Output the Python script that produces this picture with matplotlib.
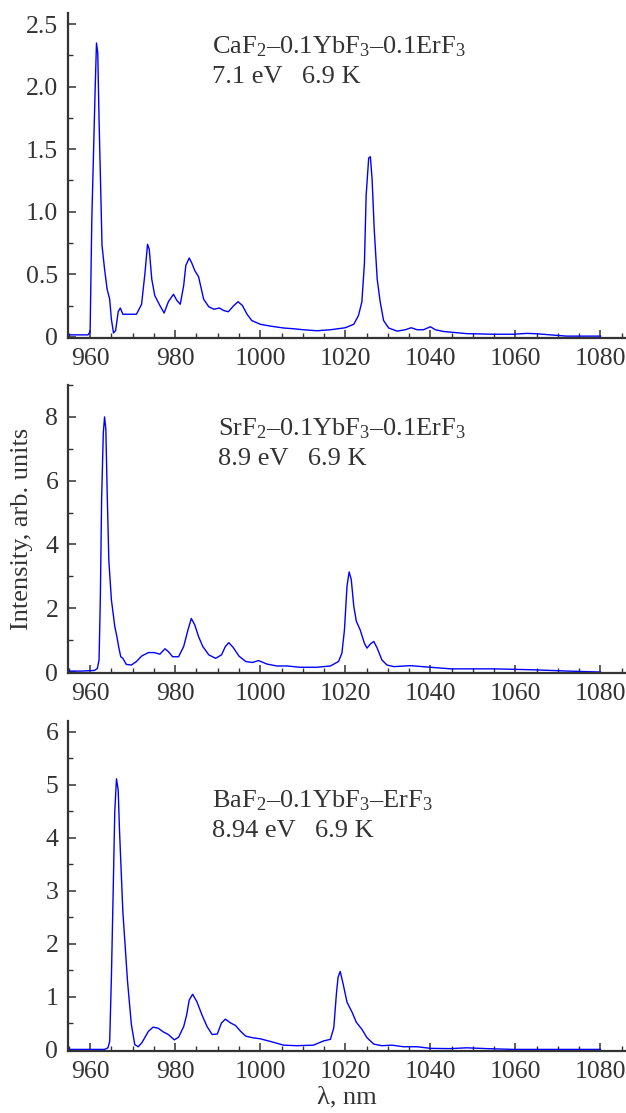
import numpy as np
import matplotlib.pyplot as plt
from matplotlib.ticker import MultipleLocator

plt.rcParams['font.family'] = ['Liberation Serif', 'DejaVu Serif']
plt.rcParams['mathtext.fontset'] = 'custom'
plt.rcParams['mathtext.rm'] = 'Liberation Serif'
plt.rcParams['mathtext.it'] = 'Liberation Serif:italic'

# CaF2-0.1YbF3-0.1ErF3, 7.1 eV, 6.9 K
wl_ca = [955, 959.5, 960, 960.4, 960.8, 961.2, 961.5, 961.8, 962.1, 962.4, 962.8,
         963.4, 964.0, 964.6, 965.0, 965.5, 966.0, 966.6, 967.1, 967.7, 968.9, 970.9,
         972.1, 972.9, 973.5, 973.9, 974.5, 975.2, 976.4, 977.4, 978.4, 979.6, 980.4,
         981.2, 982.0, 982.5, 983.3, 983.9, 984.6, 985.5, 986.7, 987.9, 989.1, 990.4,
         991.4, 992.5, 993.8, 994.8, 995.8, 996.9, 998.0, 1000.0, 1002.4, 1005.5,
         1007.8, 1010.2, 1013.3, 1016.5, 1020.0, 1022.0, 1023.1, 1023.9, 1024.5,
         1024.9, 1025.5, 1025.9, 1026.3, 1026.8, 1027.5, 1028.2, 1029.0, 1030.2,
         1032.2, 1034.1, 1035.5, 1036.9, 1038.4, 1040.0, 1041.2, 1043.1, 1044.7,
         1048.5, 1054.8, 1059.5, 1062.7, 1065.0, 1069.0, 1072.0, 1080.0]
int_ca = [0.015, 0.015, 0.04, 0.94, 1.47, 2.0, 2.35, 2.27, 1.74, 1.31, 0.73,
          0.54, 0.38, 0.30, 0.14, 0.03, 0.05, 0.20, 0.23, 0.18, 0.18, 0.18,
          0.26, 0.51, 0.74, 0.70, 0.46, 0.33, 0.25, 0.19, 0.28, 0.34, 0.29,
          0.26, 0.41, 0.57, 0.63, 0.59, 0.53, 0.48, 0.30, 0.24, 0.22, 0.23,
          0.21, 0.20, 0.25, 0.28, 0.25, 0.18, 0.13, 0.10, 0.085, 0.07,
          0.064, 0.056, 0.048, 0.056, 0.072, 0.10, 0.17, 0.28, 0.59,
          1.13, 1.43, 1.44, 1.26, 0.86, 0.46, 0.28, 0.13, 0.07,
          0.045, 0.056, 0.072, 0.056, 0.056, 0.08, 0.056, 0.042, 0.037,
          0.025, 0.02, 0.02, 0.027, 0.024, 0.013, 0.005, 0.005]

# SrF2-0.1YbF3-0.1ErF3, 8.9 eV, 6.9 K
wl_sr = [955, 958, 961.0, 961.7, 962.1, 962.4, 962.7, 963.1, 963.4, 963.7, 964.0,
         964.4, 965.0, 965.8, 966.3, 966.7, 967.2, 967.7, 968.5, 969.7, 970.9,
         972.1, 973.7, 975.1, 976.4, 977.6, 978.4, 979.4, 980.8, 982.0, 983.0,
         983.8, 984.6, 985.5, 986.5, 987.9, 989.5, 990.9, 991.8, 992.6, 993.6,
         995.0, 996.6, 998.2, 999.6, 1001.6, 1003.9, 1006.3, 1009.4, 1013.3,
         1016.5, 1018.4, 1019.2, 1019.8, 1020.4, 1020.9, 1021.4, 1022.0, 1022.6,
         1023.5, 1024.5, 1025.1, 1025.9, 1026.7, 1027.5, 1028.6, 1029.8, 1031.4,
         1035.3, 1040.0, 1044.8, 1055.0, 1064.4, 1072.3, 1080.0]
int_sr = [0.03, 0.03, 0.05, 0.11, 0.38, 2.27, 5.4, 7.5, 8.0, 7.6, 5.7,
          3.5, 2.27, 1.43, 1.11, 0.80, 0.48, 0.43, 0.24, 0.22, 0.33,
          0.50, 0.61, 0.61, 0.56, 0.73, 0.64, 0.48, 0.48, 0.80, 1.32,
          1.68, 1.48, 1.11, 0.80, 0.54, 0.43, 0.54, 0.80, 0.92, 0.78,
          0.50, 0.33, 0.30, 0.36, 0.25, 0.19, 0.19, 0.15, 0.15,
          0.19, 0.33, 0.59, 1.32, 2.69, 3.14, 2.90, 2.06, 1.59,
          1.32, 0.90, 0.75, 0.88, 0.96, 0.75, 0.38, 0.22, 0.17,
          0.20, 0.15, 0.10, 0.10, 0.07, 0.03, 0.0]

# BaF2-0.1YbF3-ErF3, 8.94 eV, 6.9 K
wl_ba = [955, 963.4, 964.2, 964.6, 965.0, 965.4, 965.8, 966.2, 966.6, 966.9, 967.7,
         968.8, 969.7, 970.5, 971.3, 972.2, 973.7, 974.8, 976.0, 977.2, 978.4,
         979.8, 980.8, 982.0, 982.7, 983.3, 984.1, 985.1, 986.3, 987.5, 988.7,
         989.9, 990.9, 991.8, 993.0, 994.2, 995.4, 996.6, 998.2, 1000.0, 1002.4,
         1005.5, 1008.6, 1012.5, 1013.7, 1014.9, 1016.5, 1017.3, 1017.9, 1018.3,
         1018.8, 1019.5, 1020.4, 1021.6, 1022.6, 1023.9, 1025.1, 1026.7, 1028.6,
         1031.0, 1033.7, 1036.9, 1040.0, 1044.7, 1048.5, 1053.2, 1059.5, 1080.0]
int_ba = [0.01, 0.01, 0.04, 0.16, 1.35, 2.9, 4.5, 5.11, 4.9, 4.16, 2.6,
          1.29, 0.48, 0.10, 0.06, 0.14, 0.35, 0.43, 0.41, 0.34, 0.29,
          0.19, 0.24, 0.44, 0.66, 0.94, 1.05, 0.91, 0.66, 0.44, 0.29,
          0.30, 0.51, 0.58, 0.51, 0.46, 0.35, 0.26, 0.23, 0.21, 0.16,
          0.09, 0.08, 0.09, 0.13, 0.17, 0.20, 0.42, 1.05, 1.37,
          1.48, 1.24, 0.90, 0.71, 0.52, 0.39, 0.23, 0.11, 0.08,
          0.09, 0.06, 0.06, 0.03, 0.025, 0.04, 0.025, 0.01, 0.01]

labels = ['CaF$_2$–0.1YbF$_3$–0.1ErF$_3$',
          'SrF$_2$–0.1YbF$_3$–0.1ErF$_3$',
          'BaF$_2$–0.1YbF$_3$–ErF$_3$']
conditions = ['7.1 eV   6.9 K', '8.9 eV   6.9 K', '8.94 eV   6.9 K']
y_ticks = [[0, 0.5, 1.0, 1.5, 2.0, 2.5], [0, 2, 4, 6, 8], [0, 1, 2, 3, 4, 5, 6]]
y_ticklabels = [['0', '0.5', '1.0', '1.5', '2.0', '2.5'],
                ['0', '2', '4', '6', '8'],
                ['0', '1', '2', '3', '4', '5', '6']]

fig = plt.figure(figsize=(6.26, 11.13), dpi=100)
H = 1113
rects = [(13, 338), (385, 673), (721, 1051)]
ylims = [(-0.01, 2.59), (-0.03, 9.0), (-0.02, 6.2)]
minors = [0.25, 1, 0.5]
text_pos = [(0.258, 0.877, 0.785), (0.269, 0.826, 0.722), (0.258, 0.739, 0.648)]
data = [(wl_ca, int_ca), (wl_sr, int_sr), (wl_ba, int_ba)]
txt = '#333333'

axes = []
for i in range(3):
    top, bot = rects[i]
    ax = fig.add_axes([68 / 626, 1 - bot / H, 1 - 68 / 626, (bot - top) / H])
    wl, inten = data[i]
    ax.plot(wl, inten, color='#0000ff', lw=1.0)
    ax.set_xlim(954.8, 1086)
    ax.set_ylim(*ylims[i])
    ax.set_xticks([960, 980, 1000, 1020, 1040, 1060, 1080])
    ax.xaxis.set_minor_locator(MultipleLocator(5))
    ax.set_yticks(y_ticks[i])
    ax.set_yticklabels(y_ticklabels[i])
    ax.yaxis.set_minor_locator(MultipleLocator(minors[i]))
    for s in ['top', 'right']:
        ax.spines[s].set_visible(False)
    for s in ['left', 'bottom']:
        ax.spines[s].set_linewidth(1.6)
        ax.spines[s].set_color(txt)
    ax.tick_params(which='major', direction='in', length=6, width=1.1,
                   color=txt, labelsize=18.5, labelcolor=txt, pad=7)
    ax.tick_params(which='minor', direction='in', length=3.5, width=1.0,
                   color=txt)
    tx, ty1, ty2 = text_pos[i]
    ax.text(tx, ty1, labels[i], transform=ax.transAxes, fontsize=19,
            color=txt, va='baseline')
    ax.text(tx, ty2, conditions[i], transform=ax.transAxes, fontsize=19,
            color=txt, va='baseline')
    axes.append(ax)

axes[1].set_ylabel('Intensity, arb. units', fontsize=19, color=txt)
axes[1].yaxis.set_label_coords(-0.063, 0.5)
axes[2].set_xlabel('λ, nm', fontsize=19, color=txt, labelpad=3)

fig.savefig('out.png', dpi=100)
